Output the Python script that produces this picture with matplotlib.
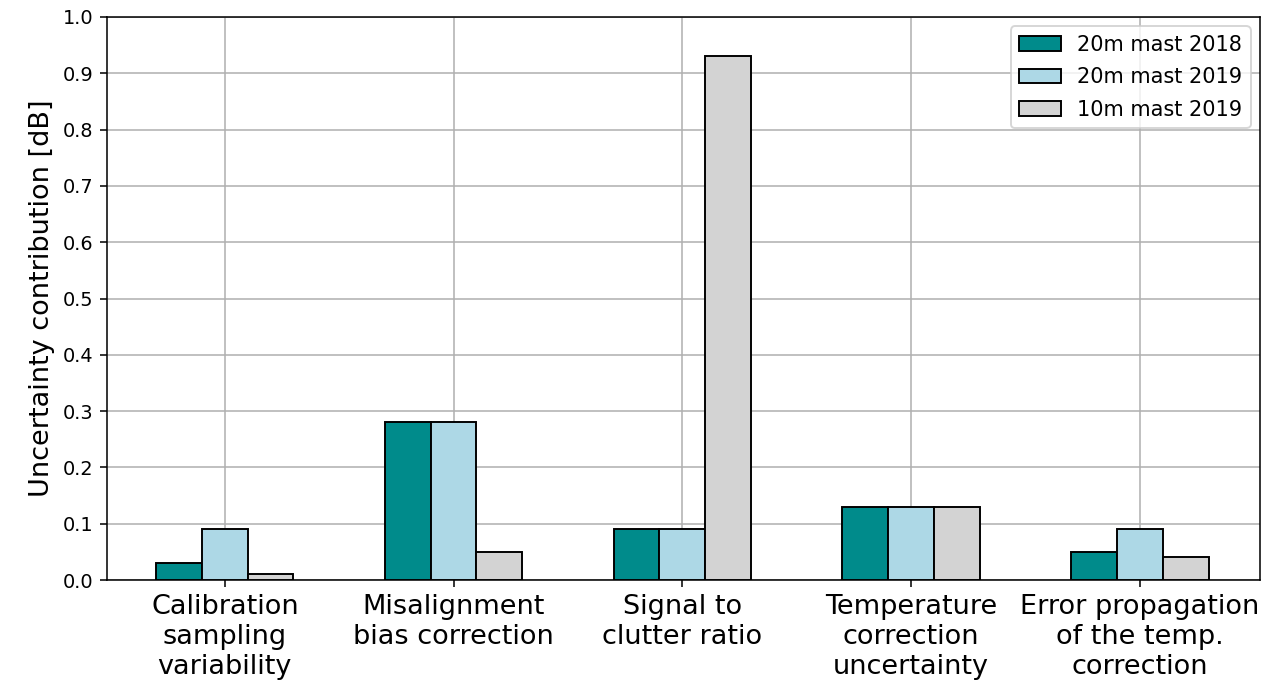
import matplotlib
matplotlib.use("Agg")
import matplotlib.pyplot as plt
import numpy as np

categories = ["Calibration\nsampling\nvariability",
              "Misalignment\nbias correction",
              "Signal to\nclutter ratio",
              "Temperature\ncorrection\nuncertainty",
              "Error propagation\nof the temp.\ncorrection"]
mast20_2018 = [0.03, 0.28, 0.09, 0.13, 0.05]
mast20_2019 = [0.09, 0.28, 0.09, 0.13, 0.09]
mast10_2019 = [0.01, 0.05, 0.93, 0.13, 0.04]
series_labels = ["20m mast 2018", "20m mast 2019", "10m mast 2019"]
colors = ["#008b8b", "#add8e6", "#d3d3d3"]

s = 1.39
plt.rcParams.update({
    "xtick.major.size": 3.5 * s, "ytick.major.size": 3.5 * s,
    "xtick.major.pad": 3.5 * s, "ytick.major.pad": 3.5 * s,
    "xtick.major.width": 0.8 * s, "ytick.major.width": 0.8 * s,
    "axes.linewidth": 0.8 * s, "axes.labelpad": 4.0 * s,
})

fig = plt.figure(figsize=(12.86, 6.81), dpi=100)
ax = fig.add_axes([107/1286, 1 - 580/681, (1260-107)/1286, (580-17)/681])
x = np.arange(len(categories))
w = 0.2
for i, (vals, lab, c) in enumerate(zip([mast20_2018, mast20_2019, mast10_2019], series_labels, colors)):
    ax.bar(x + (i - 1) * w, vals, w, label=lab, color=c, edgecolor="black", linewidth=1.0 * s, zorder=3)

ax.set_xlim(-0.515, 4.525)
ax.set_ylim(0, 1.0)
ax.set_yticks(np.arange(0, 1.01, 0.1))
ax.set_yticklabels([f"{v:.1f}" for v in np.arange(0, 1.01, 0.1)], fontsize=13.9)
ax.set_xticks(x)
ax.set_xticklabels(categories, fontsize=19.5)
ax.set_ylabel("Uncertainty contribution [dB]", fontsize=19.5)
ax.grid(True, color="#b0b0b0", linewidth=0.8 * s, zorder=0)
ax.set_axisbelow(True)
leg = ax.legend(loc="upper right", fontsize=15, labelspacing=0.6, borderaxespad=0.45)
leg.get_frame().set_linewidth(1.0 * s)
fig.savefig("out.png", dpi=100)
